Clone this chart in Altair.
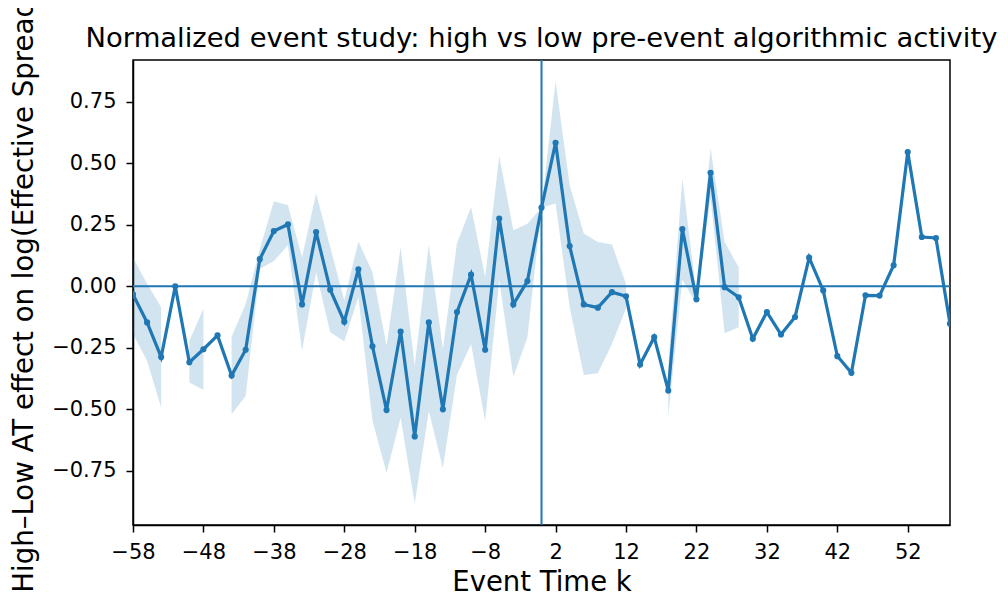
import altair as alt
import pandas as pd

# Event time (every 2 periods)
k = list(range(-58, 59, 2))

# Point estimates
est = [-0.033, -0.147, -0.288, 0.0, -0.309, -0.256, -0.200, -0.363, -0.258, 0.110,
       0.224, 0.251, -0.074, 0.220, -0.014, -0.144, 0.069, -0.244, -0.503, -0.184,
       -0.610, -0.147, -0.500, -0.105, 0.047, -0.258, 0.275, -0.074, 0.021, 0.319,
       0.583, 0.163, -0.074, -0.087, -0.024, -0.041, -0.318, -0.207, -0.424, 0.232,
       -0.053, 0.461, -0.004, -0.045, -0.213, -0.105, -0.196, -0.125, 0.116, -0.017,
       -0.284, -0.352, -0.037, -0.038, 0.085, 0.545, 0.200, 0.196, -0.152]

# Confidence band (None = not drawn)
lo = [-0.194, -0.303, -0.493, None, -0.391, -0.422, None, -0.520, -0.446, 0.070,
      0.102, 0.166, -0.262, 0.057, -0.187, -0.224, -0.044, -0.547, -0.758, -0.534,
      -0.883, -0.507, -0.738, -0.360, -0.235, -0.548, 0.023, -0.368, -0.208, 0.319,
      0.336, -0.084, -0.361, -0.354, -0.235, -0.090, None, None, -0.527, 0.026,
      -0.073, 0.360, -0.191, -0.167, None, None, None, None, None, None,
      None, None, None, None, None, None, None, None, None]
hi = [0.116, 0.010, -0.085, None, -0.221, -0.092, None, -0.205, -0.072, 0.150,
      0.345, 0.329, 0.118, 0.377, 0.159, -0.058, 0.182, 0.057, -0.242, 0.159,
      -0.323, 0.169, -0.255, 0.175, 0.322, 0.037, 0.529, 0.227, 0.254, 0.319,
      0.832, 0.410, 0.214, 0.180, 0.169, 0.010, None, None, -0.320, 0.438,
      -0.033, 0.560, 0.180, 0.077, None, None, None, None, None, None,
      None, None, None, None, None, None, None, None, None]

x_ticks = [-58, -48, -38, -28, -18, -8, 2, 12, 22, 32, 42, 52]
y_ticks = [-0.75, -0.5, -0.25, 0.0, 0.25, 0.5, 0.75]

BLUE = "#1f77b4"
FONT = "DejaVu Sans"

df = pd.DataFrame({"k": k, "est": est, "lo": lo, "hi": hi})
seg, s, prev = [], 0, False
for v in lo:
    ok = v is not None
    if ok and not prev:
        s += 1
    seg.append(s if ok else -1)
    prev = ok
df["seg"] = seg
band_df = df[df["seg"] >= 0]

xscale = alt.Scale(domain=[-58, 58], nice=False, zero=False)
yscale = alt.Scale(domain=[-0.97, 0.919], nice=False, zero=False)

xaxis = alt.Axis(values=x_ticks, title="Event Time k", labelFlush=False,
                 labelOverlap=False, labelPadding=9, titleY=65,
                 titleFontSize=27.5,
                 titleBaseline="alphabetic", titleX=408.5, titleAlign="center")
yaxis = alt.Axis(values=y_ticks, format=".2f",
                 title="High\u2013Low AT effect on log(Effective Spread)",
                 labelFlush=False, labelOverlap=False, labelPadding=10,
                 titleFontSize=27.6,
                 titleX=-101, titleY=230.5, titleAngle=270, titleAlign="center",
                 titleBaseline="alphabetic")

band = alt.Chart(band_df).mark_area(color=BLUE, opacity=0.2, clip=True).encode(
    x=alt.X("k:Q", scale=xscale, axis=xaxis),
    y=alt.Y("lo:Q", scale=yscale, axis=yaxis),
    y2="hi:Q",
    detail="seg:N",
)

hrule = alt.Chart(pd.DataFrame({"y": [0.0]})).mark_rule(color=BLUE, strokeWidth=2).encode(
    y=alt.Y("y:Q", scale=yscale)
)
vrule = alt.Chart(pd.DataFrame({"x": [0.0]})).mark_rule(color=BLUE, strokeWidth=2).encode(
    x=alt.X("x:Q", scale=xscale)
)

line = alt.Chart(df).mark_line(color=BLUE, strokeWidth=3.2, clip=True).encode(
    x=alt.X("k:Q", scale=xscale),
    y=alt.Y("est:Q", scale=yscale),
)
pts = alt.Chart(df).mark_circle(color=BLUE, size=38, opacity=1, clip=True).encode(
    x=alt.X("k:Q", scale=xscale),
    y=alt.Y("est:Q", scale=yscale),
)

chart = alt.layer(band, hrule, vrule, line, pts).properties(
    width=817,
    height=465,
    padding={"left": 125, "top": 52, "right": 50, "bottom": 70},
    autosize=alt.AutoSizeParams(type="none"),
    title=alt.TitleParams(
        text="Normalized event study: high vs low pre-event algorithmic activity",
        fontSize=27.4, font=FONT, fontWeight="normal", color="black",
        anchor="middle", offset=7, dy=71,
    ),
).configure(
    font=FONT,
    background="white",
).configure_view(
    stroke="black", strokeWidth=1.5,
).configure_axis(
    grid=False,
    domainColor="black", domainWidth=1.5,
    tickColor="black", tickWidth=1.5, tickSize=7,
    labelFont=FONT, labelFontSize=21, labelColor="black",
    titleFont=FONT, titleFontSize=27, titleFontWeight="normal", titleColor="black",
)

chart.save("out.html", embed_options={"renderer": "svg", "actions": False})
